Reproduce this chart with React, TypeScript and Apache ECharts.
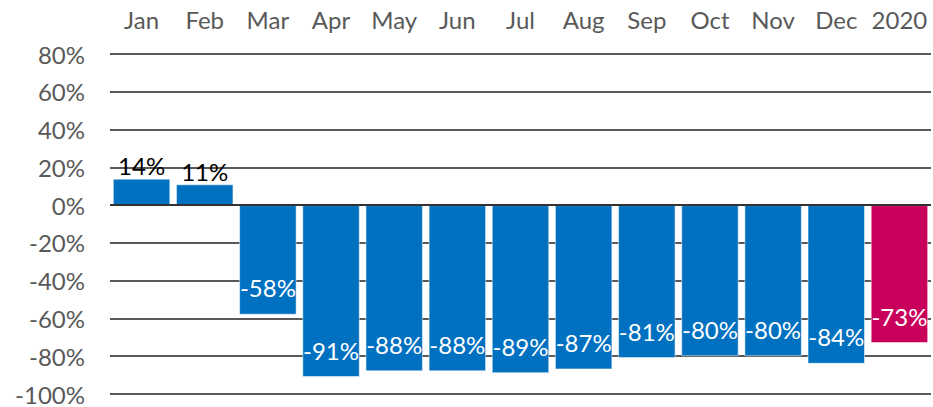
import React, { useEffect, useRef } from "react";
import * as echarts from "echarts";

const categories = ["Jan", "Feb", "Mar", "Apr", "May", "Jun", "Jul", "Aug", "Sep", "Oct", "Nov", "Dec", "2020"];
const values = [14, 11, -58, -91, -88, -88, -89, -87, -81, -80, -80, -84, -73];
const barColors = ["#0070C0", "#0070C0", "#0070C0", "#0070C0", "#0070C0", "#0070C0", "#0070C0", "#0070C0", "#0070C0", "#0070C0", "#0070C0", "#0070C0", "#C8005C"];

const FONT = "Lato, 'Open Sans', sans-serif";

export default function App() {
  const ref = useRef<HTMLDivElement>(null);
  useEffect(() => {
    if (!ref.current) return;
    const chart = echarts.init(ref.current, undefined, { renderer: "svg" });
    chart.setOption({
      animation: false,
      grid: { left: 110, right: 2, top: 54, bottom: 13, containLabel: false },
      xAxis: {
        type: "category",
        position: "top",
        data: categories,
        axisLine: { show: false },
        axisTick: { show: false },
        axisLabel: { color: "#595959", fontSize: 24, fontFamily: FONT, margin: 23, interval: 0 },
        splitLine: { show: false },
      },
      yAxis: {
        type: "value",
        min: -100,
        max: 80,
        interval: 20,
        axisLine: { show: false },
        axisTick: { show: false },
        axisLabel: { color: "#595959", fontSize: 24, fontFamily: FONT, margin: 25, formatter: "{value}%" },
        splitLine: { lineStyle: { color: "#222", width: 1.5 } },
      },
      series: [
        {
          type: "bar",
          barCategoryGap: "9%",
          data: values.map((v, i) => ({
            value: v,
            itemStyle: { color: barColors[i] },
            label: v >= 0
              ? { position: "top", color: "#000", distance: 1 }
              : { position: "insideBottom", color: "#fff", distance: 15 },
          })),
          itemStyle: { borderColor: "rgba(255,255,255,0.5)", borderWidth: 1 },
          label: {
            show: true,
            fontSize: 24,
            fontFamily: FONT,
            formatter: "{c}%",
          },
          markLine: {
            silent: true,
            symbol: "none",
            label: { show: false },
            lineStyle: { color: "#333", width: 2, type: "solid" },
            data: [{ yAxis: 0 }],
          },
        },
      ],
    });
    return () => chart.dispose();
  }, []);
  return <div ref={ref} style={{ width: 933, height: 407, position: "absolute", left: 0, top: 0 }} />;
}
